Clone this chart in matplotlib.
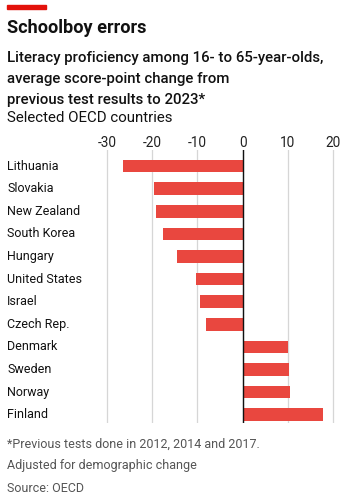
import matplotlib
matplotlib.use("Agg")
import matplotlib.pyplot as plt
import matplotlib.transforms as mtrans
from matplotlib.patches import Rectangle

countries = ["Lithuania", "Slovakia", "New Zealand", "South Korea", "Hungary",
             "United States", "Israel", "Czech Rep.", "Denmark", "Sweden",
             "Norway", "Finland"]
values = [-26.5, -19.5, -19.2, -17.6, -14.6, -10.4, -9.4, -8.1, 10.1, 10.3, 10.5, 17.8]
ticks = [-30, -20, -10, 0, 10, 20]
tick_labels = ["-30", "-20", "-10", "0", "10", "20"]

plt.rcParams['font.family'] = ['Roboto', 'DejaVu Sans']

W, H = 350, 501
fig = plt.figure(figsize=(W / 100, H / 100), dpi=100)

def fx(px):
    return px / W

def fy(py):
    return 1 - py / H

xl, xr = 102.3, 337.8
yt, yb = 150, 423
ax = fig.add_axes([fx(xl), fy(yb), fx(xr - xl), (yb - yt) / H])
ax.set_xlim(-31, 21)
ax.set_ylim(11.37, -0.71)

ypos = list(range(len(countries)))
ax.barh(ypos, values, height=0.56, color='#E9473F', zorder=2)
for t in ticks:
    ax.axvline(t, color='#d6d6d6', lw=0.9, zorder=1)
ax.axvline(0, color='#111111', lw=1.0, zorder=3)

ax.set_xticks(ticks)
ax.set_xticklabels(tick_labels)
ax.xaxis.tick_top()
ax.tick_params(axis='x', length=0, labelsize=9.8, pad=0, colors='#222222')
ax.set_yticks([])
for s in ax.spines.values():
    s.set_visible(False)

trans = mtrans.blended_transform_factory(fig.transFigure, ax.transData)
for y, c in zip(ypos, countries):
    ax.text(fx(7), y, c, transform=trans, fontsize=9, va='center', ha='left', color='#111111')

fig.patches.append(Rectangle((fx(7), fy(9)), fx(39), 4 / H, transform=fig.transFigure,
                             color='#E3120B', zorder=5))

fig.text(fx(7), fy(28), "Schoolboy errors", fontsize=13.1, fontweight='bold',
         va='center', ha='left', color='#111111')
sub = ["Literacy proficiency among 16- to 65-year-olds,",
       "average score-point change from",
       "previous test results to 2023*"]
for i, s in enumerate(sub):
    fig.text(fx(7), fy(58 + 21 * i), s, fontsize=10.8, fontweight='medium',
             va='center', ha='left', color='#111111')
fig.text(fx(7), fy(118), "Selected OECD countries", fontsize=10.8,
         va='center', ha='left', color='#111111')

foot = ["*Previous tests done in 2012, 2014 and 2017.",
        "Adjusted for demographic change",
        "Source: OECD"]
for i, s in enumerate(foot):
    fig.text(fx(7), fy(444 + 22 * i), s, fontsize=9.0,
             va='center', ha='left', color='#555555')

fig.savefig("out.png", dpi=100)
